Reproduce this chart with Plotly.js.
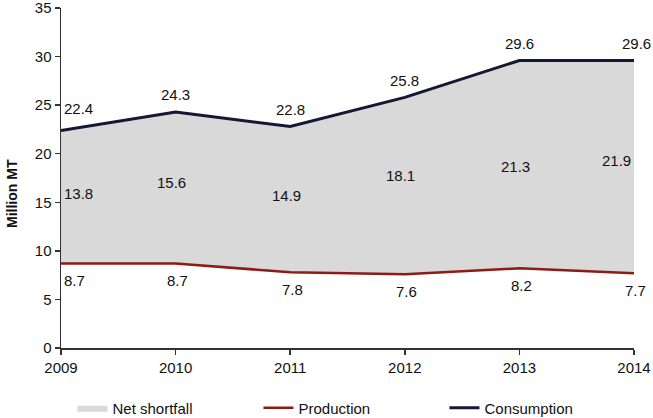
<!DOCTYPE html>
<html>
<head>
<meta charset="utf-8">
<script src="https://cdn.plot.ly/plotly-3.0.1.min.js"></script>
<style>html,body{margin:0;padding:0;background:#fff;}#chart{width:653px;height:418px;}</style>
</head>
<body>
<div id="chart"></div>
<script>
const years = [2009, 2010, 2011, 2012, 2013, 2014];
const production = [8.7, 8.7, 7.8, 7.6, 8.2, 7.7];
const netShortfall = [13.8, 15.6, 14.9, 18.1, 21.3, 21.9];
const consumption = [22.4, 24.3, 22.8, 25.8, 29.6, 29.6];
const yTicks = [0, 5, 10, 15, 20, 25, 30, 35];

// label heights (in data units) for net shortfall labels, as placed in the reference
const shortfallLabelY = [15.9, 17.0, 15.7, 17.8, 18.7, 19.3];

const FONT = 'Liberation Sans, Arial, sans-serif';
const FS = 15;

const traces = [
  {
    x: years, y: production, name: 'Production', type: 'scatter', mode: 'lines',
    stackgroup: 'one', fill: 'none', fillcolor: 'rgba(0,0,0,0)',
    line: {color: '#8e1b14', width: 2.5}, legendrank: 2, hoverinfo: 'skip'
  },
  {
    x: years, y: netShortfall, name: 'Net shortfall', type: 'scatter', mode: 'lines',
    stackgroup: 'one', fill: 'tonexty', fillcolor: '#d9d9d9',
    line: {color: 'rgba(0,0,0,0)', width: 0}, legendrank: 1, hoverinfo: 'skip'
  },
  {
    x: years, y: consumption, name: 'Consumption', type: 'scatter', mode: 'lines',
    line: {color: '#141833', width: 3}, legendrank: 3, hoverinfo: 'skip'
  }
];

const annotations = [];
years.forEach((yr, i) => {
  const last = i === years.length - 1;
  annotations.push({
    x: yr, y: consumption[i], text: consumption[i].toFixed(1), showarrow: false,
    xanchor: i === 0 ? 'left' : 'center', yanchor: 'middle', yshift: i === 0 ? 22 : 17,
    xshift: i === 0 ? 1 : (last ? 2 : 0),
    font: {family: FONT, size: FS, color: '#111'}
  });
  annotations.push({
    x: yr, y: production[i], text: production[i].toFixed(1), showarrow: false,
    xanchor: i === 0 ? 'left' : 'center', yanchor: 'middle', yshift: -17,
    xshift: i === 0 ? 1 : (last ? 1 : 2),
    font: {family: FONT, size: FS, color: '#111'}
  });
  annotations.push({
    x: yr, y: shortfallLabelY[i], text: netShortfall[i].toFixed(1), showarrow: false,
    xanchor: i === 0 ? 'left' : (last ? 'right' : 'center'), yanchor: 'middle',
    xshift: i === 0 ? 1 : (last ? -1 : -4),
    font: {family: FONT, size: FS, color: '#111'}
  });
});
annotations.push({
  xref: 'paper', yref: 'paper', x: 0, y: 0.453, xshift: -49, xanchor: 'center', yanchor: 'middle',
  text: '<b>Million MT</b>', textangle: -90, showarrow: false,
  font: {family: FONT, size: 14, color: '#111'}
});

const layout = {
  width: 653, height: 418,
  margin: {l: 61, r: 19, t: 8, b: 70, autoexpand: false},
  paper_bgcolor: '#fff', plot_bgcolor: '#fff',
  font: {family: FONT, size: FS, color: '#111'},
  showlegend: true,
  legend: {
    orientation: 'h', x: 0.02, xanchor: 'left', yref: 'container', y: 0.024, yanchor: 'middle',
    traceorder: 'normal', entrywidth: 141, entrywidthmode: 'pixels',
    font: {family: FONT, size: FS, color: '#111'}
  },
  xaxis: {
    range: [2009, 2014], tickmode: 'array', tickvals: years, ticktext: years.map(String),
    showgrid: false, zeroline: false, showline: true, linecolor: '#333', linewidth: 1.5,
    ticks: 'outside', ticklen: 5, tickcolor: '#333', tickwidth: 1.5,
    tickfont: {family: FONT, size: FS, color: '#111'}, fixedrange: true,
    ticklabeloverflow: 'allow', automargin: false
  },
  yaxis: {
    range: [0, 35], tickmode: 'array', tickvals: yTicks, ticktext: yTicks.map(String),
    showgrid: false, zeroline: false, showline: true, linecolor: '#333', linewidth: 1.5,
    ticks: 'outside', ticklen: 5, tickcolor: '#333', tickwidth: 1.5,
    tickfont: {family: FONT, size: FS, color: '#111'}, fixedrange: true,
    ticklabeloverflow: 'allow', automargin: false
  },
  annotations: annotations
};

Plotly.newPlot('chart', traces, layout, {displayModeBar: false, staticPlot: true});
</script>
</body>
</html>
